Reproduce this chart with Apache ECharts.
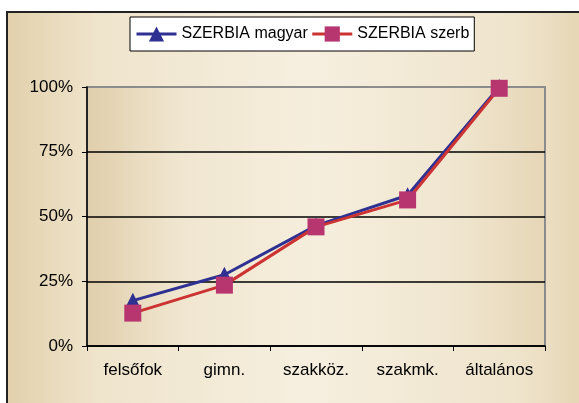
<!DOCTYPE html>
<html>
<head>
<meta charset="utf-8">
<script src="https://cdn.jsdelivr.net/npm/echarts@6/dist/echarts.min.js"></script>
<style>
  html, body { margin: 0; padding: 0; background: #fff; }
  #chart { width: 579px; height: 403px; }
</style>
</head>
<body>
<div id="chart"></div>
<script>
// categories (x axis)
const categories = ["felsőfok", "gimn.", "szakköz.", "szakmk.", "általános"];

// cumulative shares, in %
const magyar = [17.5, 27.5, 46.5, 58.2, 100];
const szerb = [12.7, 23.5, 46, 56.4, 99.5];

const seriesNames = ["SZERBIA magyar", "SZERBIA szerb"];

const FONT = "Liberation Sans, Arial, sans-serif";

const chartDom = document.getElementById("chart");
const myChart = echarts.init(chartDom, null, { renderer: "canvas" });

// plot area box
const GRID = { left: 87, top: 87, right: 34, bottom: 57 };

const option = {
  animation: false,
  backgroundColor: "#ffffff",
  textStyle: { fontFamily: FONT },
  graphic: [
    // outer chart area with beige gradient
    {
      type: "rect",
      z: -20,
      shape: { x: 7, y: 12, width: 600, height: 420 },
      style: {
        fill: new echarts.graphic.LinearGradient(0, 0, 1, 0, [
          { offset: 0, color: "#e2d0ab" },
          { offset: 0.15, color: "#efe4cc" },
          { offset: 0.5, color: "#f6efdf" },
          { offset: 0.85, color: "#efe4cc" },
          { offset: 1, color: "#e2d0ab" },
        ]),
        stroke: "#222",
        lineWidth: 2,
      },
    },
    // plot area gradient
    {
      type: "rect",
      z: -10,
      shape: {
        x: GRID.left,
        y: GRID.top,
        width: 579 - GRID.left - GRID.right,
        height: 403 - GRID.top - GRID.bottom,
      },
      style: {
        fill: new echarts.graphic.LinearGradient(0, 0, 1, 0, [
          { offset: 0, color: "#e0ceab" },
          { offset: 0.2, color: "#f0e6d0" },
          { offset: 0.5, color: "#f6eedd" },
          { offset: 0.8, color: "#f0e6d0" },
          { offset: 1, color: "#e6d6b6" },
        ]),
      },
    },
  ],
  legend: {
    left: 130,
    top: 17,
    padding: [9, 5, 9, 5],
    backgroundColor: "#ffffff",
    borderColor: "#000000",
    borderWidth: 1,
    borderRadius: 0,
    itemWidth: 40,
    itemHeight: 19,
    itemGap: 3,
    lineStyle: { width: 3 },
    textStyle: { fontSize: 16, color: "#000", fontFamily: FONT },
    data: seriesNames,
  },
  grid: {
    left: GRID.left,
    top: GRID.top,
    right: GRID.right,
    bottom: GRID.bottom,
    show: true,
    borderColor: "#8c8c8c",
    borderWidth: 2,
    backgroundColor: "transparent",
  },
  xAxis: {
    type: "category",
    data: categories,
    boundaryGap: true,
    axisLine: { lineStyle: { color: "#000", width: 1.5 } },
    axisTick: { show: true, interval: 0, length: 5, lineStyle: { color: "#000" } },
    axisLabel: { color: "#000", fontSize: 17, margin: 16, fontFamily: FONT },
  },
  yAxis: {
    type: "value",
    min: 0,
    max: 100,
    interval: 25,
    axisLine: { show: true, lineStyle: { color: "#000", width: 1.5 } },
    axisTick: { show: true, length: 5, lineStyle: { color: "#000" } },
    axisLabel: {
      color: "#000",
      fontSize: 17,
      margin: 14,
      fontFamily: FONT,
      formatter: "{value}%",
    },
    splitLine: {
      show: true,
      lineStyle: { color: ["#000", "#000", "#000", "#000", "#8c8c8c"], width: 1.5 },
    },
  },
  series: [
    {
      name: seriesNames[0],
      type: "line",
      data: magyar,
      symbol: "triangle",
      symbolSize: 16,
      lineStyle: { color: "#2e3192", width: 3 },
      itemStyle: { color: "#2e3192" },
      z: 3,
    },
    {
      name: seriesNames[1],
      type: "line",
      data: szerb,
      symbol: "rect",
      symbolSize: 17,
      lineStyle: { color: "#cc3333", width: 3 },
      itemStyle: { color: "#b8366f" },
      z: 4,
    },
  ],
};

myChart.setOption(option);
</script>
</body>
</html>
